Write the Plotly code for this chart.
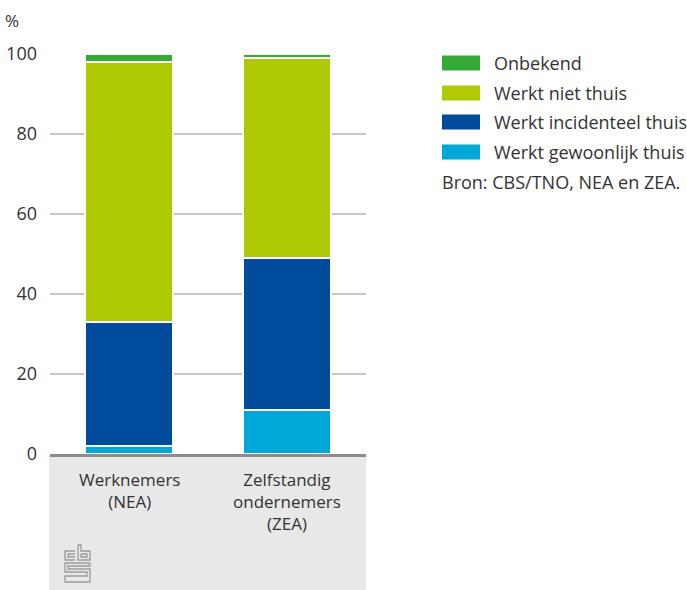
import plotly.graph_objects as go

categories = ["Werknemers<br>(NEA)", "Zelfstandig<br>ondernemers<br>(ZEA)"]
series_names = ["Werkt gewoonlijk thuis", "Werkt incidenteel thuis", "Werkt niet thuis", "Onbekend"]
gewoonlijk = [2, 11]
incidenteel = [31, 38]
niet_thuis = [65, 50]
onbekend = [2, 1]
colors = ["#00a8d8", "#004b9b", "#afca05", "#35a935"]
y_ticks = [0, 20, 40, 60, 80, 100]
source_text = "Bron: CBS/TNO, NEA en ZEA."

W, H = 687, 590
X0, X1, YB, YT = 50, 366, 454, 54
FS = 18


def px(x):
    return (x - X0) / (X1 - X0)


def py(y):
    return (YB - y) / (YB - YT)


FONT = "Open Sans, Noto Sans, sans-serif"
fig = go.Figure()
values = [gewoonlijk, incidenteel, niet_thuis, onbekend]
xs = [0, 1]
for name, vals, col in zip(series_names, values, colors):
    fig.add_trace(go.Bar(x=xs, y=vals, name=name, marker=dict(color=col, line=dict(color="white", width=1.5)),
                         width=0.56, showlegend=False, hoverinfo="skip"))

shapes = []
annotations = []
# gray box under the axis
shapes.append(dict(type="rect", xref="paper", yref="paper", x0=px(49), x1=px(366), y0=py(455), y1=py(600),
                   fillcolor="#e8e8e8", line=dict(width=0), layer="below"))

# category labels
for i, c in enumerate(categories):
    annotations.append(dict(x=i, y=py(467), xref="x", yref="paper", text=c, showarrow=False,
                            yanchor="top", xanchor="center", borderpad=0,
                            font=dict(size=17, color="#333333", family=FONT)))

# % label
annotations.append(dict(x=px(3), y=py(20), xref="paper", yref="paper", text="%", showarrow=False,
                        xanchor="left", yanchor="middle", font=dict(size=FS - 1, color="#333333", family=FONT)))

# custom legend (top to bottom)
leg_order = list(zip(series_names, colors))[::-1]
row_y = [63, 93, 122, 152]
for (name, col), ry in zip(leg_order, row_y):
    shapes.append(dict(type="rect", xref="paper", yref="paper", x0=px(442), x1=px(480), y0=py(ry - 7.5),
                       y1=py(ry + 7.5), fillcolor=col, line=dict(width=0)))
    annotations.append(dict(x=px(492), y=py(ry), xref="paper", yref="paper", text=name, showarrow=False,
                            xanchor="left", yanchor="middle", font=dict(size=FS, color="#333333", family=FONT)))
annotations.append(dict(x=px(440), y=py(182), xref="paper", yref="paper", text=source_text, showarrow=False,
                        xanchor="left", yanchor="middle", font=dict(size=FS, color="#333333", family=FONT)))

# CBS logo (approximation)
logo_paths = [
    [(75, 551), (65, 551), (65, 560), (75, 560)],
    [(75, 554), (68, 554), (68, 557), (75, 557)],
    [(78, 545), (78, 560), (90, 560), (90, 551), (81, 551), (81, 545), (78, 545)],
    [(81, 554), (87, 554), (87, 557), (81, 557), (81, 554)],
    [(90, 563), (65, 563), (65, 572), (87, 572), (87, 576), (65, 576), (65, 582), (90, 582),
     (90, 569), (68, 569), (68, 566), (90, 566), (90, 563)],
]
for pts in logo_paths:
    d = "M " + " L ".join(f"{px(x):.5f},{py(y):.5f}" for x, y in pts)
    shapes.append(dict(type="path", xref="paper", yref="paper", path=d, line=dict(color="#9a9a9a", width=1.3)))

fig.update_layout(
    width=W, height=H,
    margin=dict(l=X0, r=W - X1, t=YT, b=H - YB, pad=0, autoexpand=False),
    barmode="stack",
    plot_bgcolor="white", paper_bgcolor="white",
    bargap=0.44,
    shapes=shapes, annotations=annotations,
    font=dict(family=FONT, size=FS, color="#333333"),
    xaxis=dict(range=[-0.5, 1.5], showticklabels=False, showgrid=False, zeroline=False, showline=True,
               linecolor="#8c8c8c", linewidth=3, ticks="", fixedrange=True, automargin=False),
    yaxis=dict(range=[0, 100], tickvals=y_ticks, showgrid=True, gridcolor="#c4c4c4", gridwidth=1.5,
               zeroline=False, showline=False, ticks="", ticklabelstandoff=12, fixedrange=True,
               automargin=False, tickfont=dict(size=FS, color="#333333", family=FONT)),
)

fig.write_html("out.html", config={"displayModeBar": False},
               post_script="document.body.style.margin='0';document.body.style.overflow='hidden';")
